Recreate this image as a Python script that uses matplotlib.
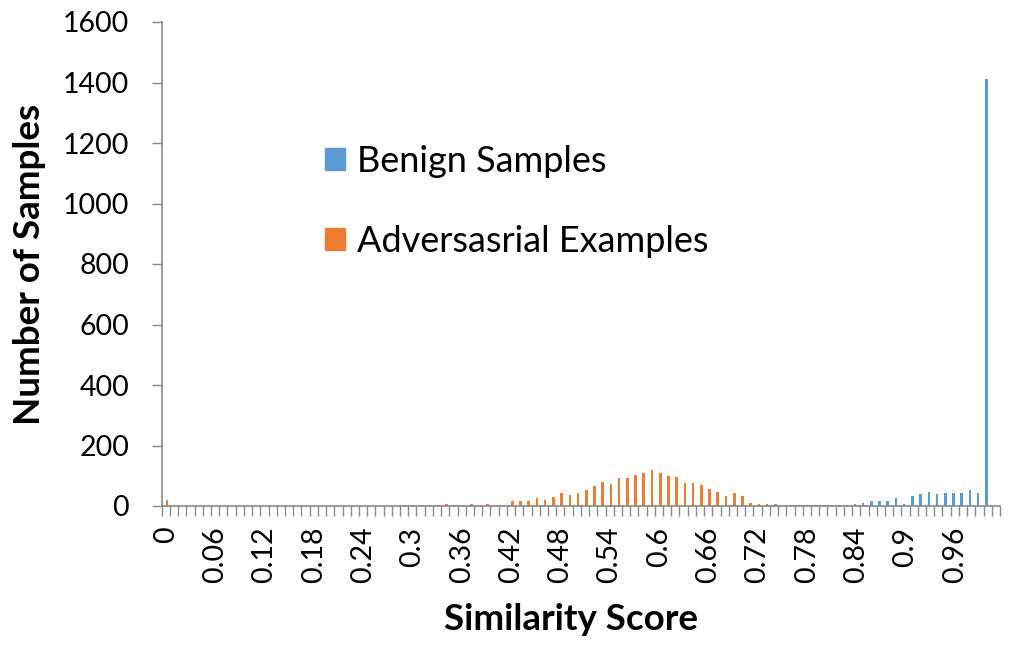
import numpy as np
import matplotlib
matplotlib.use("Agg")
import matplotlib.pyplot as plt
from matplotlib.patches import Patch

# Similarity score categories 0.00 ... 1.01
categories = [round(i / 100, 2) for i in range(102)]

adversarial = ([20] + [0] * 28 +
               [3, 3, 3, 3, 3, 7, 3, 3, 7, 3, 7, 3, 3] +
               [17, 17, 17, 26, 20, 30, 43, 36, 43] +
               [53, 66, 79, 73, 93, 93, 102, 109, 119, 109] +
               [99, 96, 76, 76, 69, 56, 46, 33, 43, 33] +
               [10, 7, 7, 7, 3, 3, 3, 3, 3, 3] +
               [0, 0, 0, 3, 3, 0, 3, 0, 0, 0] +
               [0] * 11)

benign = ([0] * 67 +
          [3, 0, 3, 0, 0, 0, 0, 3, 0, 0, 3, 3, 3, 3] +
          [3, 3, 3, 7, 10, 17, 17, 17, 26, 7] +
          [33, 40, 46, 40, 43, 43, 43, 53, 43, 1410, 0])

tick_labels = ["0", "0.06", "0.12", "0.18", "0.24", "0.3", "0.36", "0.42",
               "0.48", "0.54", "0.6", "0.66", "0.72", "0.78", "0.84", "0.9", "0.96"]
y_ticks = [0, 200, 400, 600, 800, 1000, 1200, 1400, 1600]

BLUE = "#5B9BD5"
ORANGE = "#ED7D31"
GREY = "#898989"

plt.rcParams['font.family'] = ['Lato', 'DejaVu Sans']

fig = plt.figure(figsize=(10.16, 6.51), dpi=100)
W, H = 1016, 651
ax_left, ax_right, ax_top, ax_bottom = 161.7, 1000.0, 22.0, 506.0
ax = fig.add_axes([ax_left / W, 1 - ax_bottom / H,
                   (ax_right - ax_left) / W, (ax_bottom - ax_top) / H])

x = np.arange(len(categories))
bw = 0.32
ax.bar(x - bw / 2, benign, width=bw, color=BLUE, label="Benign Samples")
ax.bar(x + bw / 2, adversarial, width=bw, color=ORANGE, label="Adversasrial Examples")

ax.set_xlim(-0.5, len(categories) - 0.5)
ax.set_ylim(0, 1600)
ax.set_yticks(y_ticks)
ax.set_yticklabels([str(v) for v in y_ticks])

label_idx = [categories.index(float(t)) for t in tick_labels]
ax.set_xticks(label_idx)
ax.set_xticklabels(tick_labels, rotation=90, va="top", ha="center")
ax.set_xticks(np.arange(len(categories) + 1) - 0.5, minor=True)

ax.tick_params(axis="x", which="major", length=0, pad=15, labelsize=20.5, colors="black")
ax.tick_params(axis="x", which="minor", length=7.5, width=1.0, color=GREY, direction="out")
ax.tick_params(axis="y", which="major", length=7.5, width=1.0, color=GREY, pad=16,
               labelsize=20.5, labelcolor="black", direction="out")

for s in ["top", "right"]:
    ax.spines[s].set_visible(False)
for s in ["left", "bottom"]:
    ax.spines[s].set_color(GREY)
    ax.spines[s].set_linewidth(1.2)

ax.text((30 - ax_left) / (ax_right - ax_left), 0.5, "Number of Samples",
        transform=ax.transAxes, rotation=90, ha="center", va="center",
        fontsize=26.5, fontweight="bold")
ax.text((571 - ax_left) / (ax_right - ax_left), (ax_bottom - 620) / (ax_bottom - ax_top),
        "Similarity Score", transform=ax.transAxes, ha="center", va="center",
        fontsize=26.5, fontweight="bold")

handles = [Patch(color=BLUE), Patch(color=ORANGE)]
fig.legend(handles, ["Benign Samples", "Adversasrial Examples"],
           loc="upper left", bbox_to_anchor=(325 / W, 1 - 145 / H),
           frameon=False, fontsize=26, handlelength=0.55, handleheight=0.55,
           handletextpad=0.33, labelspacing=1.3, borderpad=0, borderaxespad=0)

fig.savefig("out.png", dpi=100)
